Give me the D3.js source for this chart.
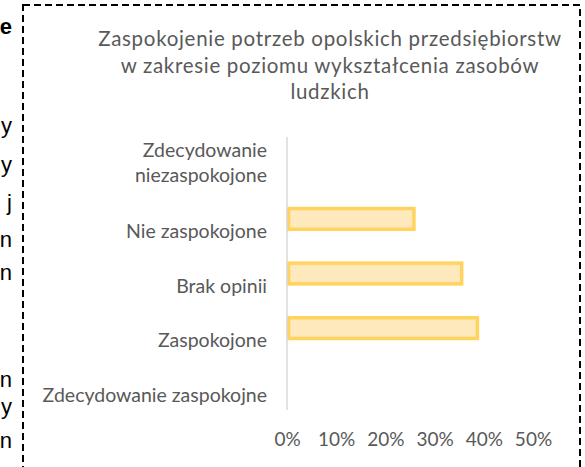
<!DOCTYPE html>
<html>
<head>
<meta charset="utf-8">
<script src="https://cdn.jsdelivr.net/npm/d3@7"></script>
<style>
  html, body { margin: 0; padding: 0; background: #fff; }
  svg { display: block; }
</style>
</head>
<body>
<svg id="chart" width="585" height="467"></svg>
<script>
// Survey answers, top to bottom, and the share of firms giving each one
const categories = [
  "Zdecydowanie niezaspokojone",
  "Nie zaspokojone",
  "Brak opinii",
  "Zaspokojone",
  "Zdecydowanie zaspokojne"
];
const shares = [0, 0.258, 0.355, 0.387, 0];
const tickValues = [0, 0.1, 0.2, 0.3, 0.4, 0.5];
const titleLines = [
  "Zaspokojenie potrzeb opolskich przedsiębiorstw",
  "w zakresie poziomu wykształcenia zasobów",
  "ludzkich"
];
// Line endings of the surrounding document text, clipped at the left edge
const marginGlyphs = [
  { ch: "e", y: 34, bold: true },
  { ch: "y", y: 133 },
  { ch: "y", y: 172 },
  { ch: "j", y: 210 },
  { ch: "n", y: 247 },
  { ch: "n", y: 280 },
  { ch: "n", y: 387 },
  { ch: "y", y: 414 },
  { ch: "n", y: 448 }
];

const svg = d3.select("#chart");
const font = "Lato, 'Open Sans', sans-serif";
const textColor = "#595959";

// document text to the left of the chart frame
svg.append("g")
  .selectAll("text")
  .data(marginGlyphs)
  .join("text")
  .attr("x", 12)
  .attr("y", d => d.y)
  .attr("text-anchor", "end")
  .attr("font-family", "'Liberation Sans', Arial, sans-serif")
  .attr("font-size", 22)
  .attr("font-weight", d => d.bold ? "bold" : "normal")
  .attr("fill", "#000")
  .text(d => d.ch);

// dashed frame around the chart object
svg.append("rect")
  .attr("x", 23)
  .attr("y", 5)
  .attr("width", 557)
  .attr("height", 480)
  .attr("fill", "none")
  .attr("stroke", "#000")
  .attr("stroke-width", 2)
  .attr("stroke-dasharray", "7,4");

// title
svg.append("text")
  .attr("x", 330)
  .attr("y", 46)
  .attr("text-anchor", "middle")
  .attr("font-family", font)
  .attr("font-size", 20.5)
  .attr("letter-spacing", 0.7)
  .attr("fill", textColor)
  .selectAll("tspan")
  .data(titleLines)
  .join("tspan")
  .attr("x", 330)
  .attr("dy", (d, i) => i === 0 ? 0 : 26.5)
  .text(d => d);

const x = d3.scaleLinear().domain([0, 0.5]).range([287, 533]);
const y = d3.scaleBand()
  .domain(categories)
  .range([137, 410])
  .paddingInner(0.62)
  .paddingOuter(0.31);

// bars
svg.append("g")
  .selectAll("rect")
  .data(categories.map((c, i) => ({ c, v: shares[i] })).filter(d => d.v > 0))
  .join("rect")
  .attr("x", x(0) + 1.5)
  .attr("y", d => y(d.c))
  .attr("width", d => x(d.v) - x(0) - 1.5)
  .attr("height", y.bandwidth())
  .attr("fill", "#fee9bc")
  .attr("stroke", "#ffd35e")
  .attr("stroke-width", 3.5);

// category axis
const yAxis = svg.append("g")
  .attr("transform", `translate(${x(0)},0)`)
  .call(d3.axisLeft(y).tickSize(0).tickSizeOuter(0).tickPadding(20));
yAxis.select(".domain")
  .attr("stroke", "#d9d9d9")
  .attr("stroke-width", 1.5)
  .attr("d", `M0,137V410`);
yAxis.selectAll(".tick text")
  .attr("font-family", font)
  .attr("font-size", 19.5)
  .attr("fill", textColor)
  .attr("dy", null)
  .each(function(d) {
    const t = d3.select(this);
    const lines = d.startsWith("Zdecydowanie niez")
      ? ["Zdecydowanie", "niezaspokojone"] : [d];
    t.text(null);
    // wrapped labels occupy two lines; single lines sit in the lower slot
    const offsets = lines.length === 2 ? [-6.5, 18.5] : [19.5];
    lines.forEach((ln, i) => {
      t.append("tspan")
        .attr("x", -20)
        .attr("y", offsets[i] - 0.5)
        .text(ln);
    });
  });
yAxis.selectAll(".tick").attr("transform", d => `translate(0,${y(d) + y.bandwidth() / 2})`);

// value axis labels
const xAxis = svg.append("g")
  .attr("transform", "translate(0,430)")
  .call(d3.axisBottom(x).tickValues(tickValues).tickFormat(d3.format(".0%")).tickSize(0).tickPadding(0));
xAxis.select(".domain").remove();
xAxis.selectAll(".tick text")
  .attr("font-family", font)
  .attr("font-size", 19)
  .attr("fill", textColor)
  .attr("dy", "0.85em");
</script>
</body>
</html>
